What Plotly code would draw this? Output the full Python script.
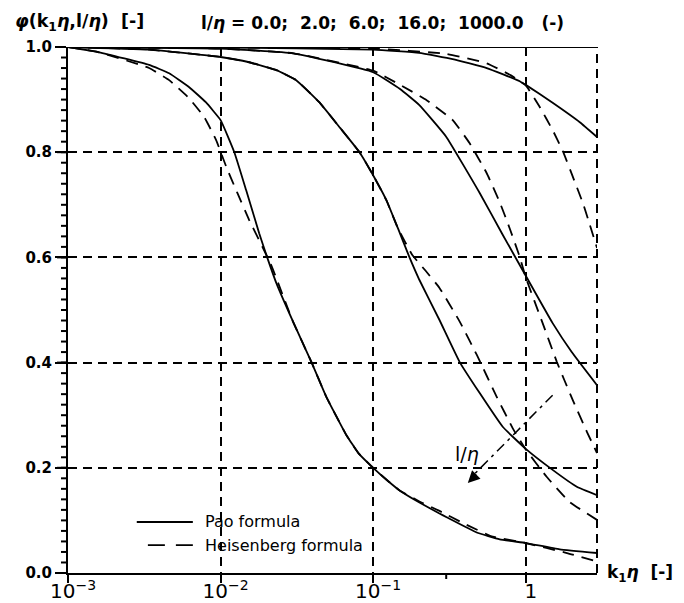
import numpy as np
import plotly.graph_objects as go

# ---------------- data ----------------
K_MAX = 2.93

x_pao_0 = [0.001, K_MAX]
y_pao_0 = [1.0, 1.0]

x_pao_2 = [0.001, 0.01, 0.1, 0.2, 0.332, 0.555, 0.913, 1.0, 1.5, 2.26, K_MAX]
y_pao_2 = [1.0, 0.999, 0.995, 0.989, 0.977, 0.96, 0.935, 0.928, 0.894, 0.857, 0.829]
x_hei_2 = [0.001, 0.01, 0.1, 0.3, 0.555, 0.8, 1.0, 1.235, 1.5, 1.75, 2.03, 2.37, 2.63, K_MAX]
y_hei_2 = [1.0, 0.999, 0.997, 0.987, 0.969, 0.946, 0.927, 0.886, 0.842, 0.802, 0.754, 0.703, 0.662, 0.618]

x_pao_6 = [0.001, 0.01, 0.03, 0.1, 0.15, 0.2, 0.3, 0.5, 0.7, 1.0, 1.5, 2.0, K_MAX]
y_pao_6 = [1.0, 0.997, 0.988, 0.952, 0.92, 0.89, 0.83, 0.722, 0.645, 0.565, 0.475, 0.42, 0.357]
x_hei_6 = [0.001, 0.01, 0.03, 0.1, 0.15, 0.224, 0.332, 0.429, 0.555, 0.675, 0.785, 0.913, 1.0, 1.29, 1.6, 2.03, 2.52, K_MAX]
y_hei_6 = [1.0, 0.997, 0.988, 0.955, 0.928, 0.899, 0.861, 0.817, 0.76, 0.705, 0.655, 0.601, 0.562, 0.475, 0.401, 0.329, 0.268, 0.228]

x_pao_16 = [0.001, 0.0034, 0.01, 0.0154, 0.0232, 0.0313, 0.0443, 0.060, 0.0813, 0.0974, 0.122, 0.145, 0.173, 0.201,
            0.272, 0.369, 0.499, 0.706, 1.0, 1.5, 2.16, K_MAX]
y_pao_16 = [1.0, 0.995, 0.981, 0.971, 0.956, 0.937, 0.895, 0.848, 0.80, 0.762, 0.709, 0.656, 0.60, 0.557,
            0.481, 0.401, 0.342, 0.278, 0.236, 0.196, 0.164, 0.148]
x_hei_16 = [0.001, 0.0034, 0.01, 0.0154, 0.0232, 0.0313, 0.0443, 0.060, 0.0813, 0.0974, 0.122, 0.145, 0.18, 0.22,
            0.272, 0.369, 0.477, 0.645, 0.822, 1.0, 1.37, 1.94, K_MAX]
y_hei_16 = [1.0, 0.995, 0.981, 0.971, 0.956, 0.937, 0.895, 0.848, 0.80, 0.762, 0.709, 0.656, 0.605, 0.575,
            0.542, 0.478, 0.415, 0.335, 0.275, 0.235, 0.183, 0.135, 0.101]

x_pao_1000 = [0.001, 0.0016, 0.0034, 0.0046, 0.0062, 0.0080, 0.0100, 0.0123, 0.0147, 0.0179, 0.0202, 0.0232,
              0.0295, 0.0394, 0.0493, 0.0668, 0.080, 0.100, 0.125, 0.149, 0.201, 0.272, 0.303, 0.477, 0.675, 1.0, 1.67, K_MAX]
y_pao_1000 = [1.0, 0.99, 0.966, 0.95, 0.924, 0.895, 0.861, 0.80, 0.728, 0.646, 0.60, 0.551,
              0.481, 0.401, 0.335, 0.262, 0.228, 0.20, 0.175, 0.157, 0.134, 0.113, 0.106, 0.077, 0.064, 0.057, 0.045, 0.038]
x_hei_1000 = [0.001, 0.0016, 0.0034, 0.0046, 0.0062, 0.0078, 0.00935, 0.0109, 0.0129, 0.0154, 0.0188, 0.0215,
              0.0295, 0.0394, 0.0493, 0.0668, 0.080, 0.100, 0.125, 0.149, 0.201, 0.272, 0.40, 0.607, 1.0, 1.86, K_MAX]
y_hei_1000 = [1.0, 0.99, 0.96, 0.937, 0.903, 0.867, 0.823, 0.772, 0.722, 0.671, 0.62, 0.585,
              0.481, 0.401, 0.335, 0.262, 0.228, 0.20, 0.175, 0.157, 0.136, 0.118, 0.093, 0.069, 0.057, 0.038, 0.022]

# arrow indicating increasing l/eta
x_arrow = [1.5, 0.45]
y_arrow = [0.338, 0.185]
arrow_tip = (0.417, 0.171)
arrow_label = (0.41, 0.226)

legend_labels = ["Pao formula", "Heisenberg formula"]

# tick positions (axis decoration)
major_x = [0.001, 0.01, 0.1, 1.0]
minor_x = [m * 10.0 ** d for d in (-3, -2, -1, 0) for m in range(2, 10) if m * 10.0 ** d <= K_MAX]
major_y = [0.0, 0.2, 0.4, 0.6, 0.8, 1.0]
minor_y = [round(v, 2) for v in np.arange(0.0, 1.0001, 0.02)]

# ---------------- figure ----------------
FONT = "DejaVu Sans, Liberation Sans, sans-serif"
BLACK = "black"
DASH = "12px,8px"
SMOOTH = 0.35
xr = [-3, float(np.log10(K_MAX))]

fig = go.Figure()

solid_sets = [(x_pao_0, y_pao_0), (x_pao_2, y_pao_2), (x_pao_6, y_pao_6),
              (x_pao_16, y_pao_16), (x_pao_1000, y_pao_1000)]
dash_sets = [(x_hei_2, y_hei_2), (x_hei_6, y_hei_6), (x_hei_16, y_hei_16), (x_hei_1000, y_hei_1000)]

for xs, ys in solid_sets:
    fig.add_trace(go.Scatter(x=xs, y=ys, mode="lines", showlegend=False,
                             line=dict(color=BLACK, width=1.8, shape="spline", smoothing=SMOOTH)))
for xs, ys in dash_sets:
    fig.add_trace(go.Scatter(x=xs, y=ys, mode="lines", showlegend=False,
                             line=dict(color=BLACK, width=1.8, dash=DASH, shape="spline", smoothing=SMOOTH)))

fig.add_trace(go.Scatter(x=x_arrow, y=y_arrow, mode="lines", showlegend=False, hoverinfo="skip",
                         line=dict(color=BLACK, width=1.5, dash="10px,5px,3px,5px")))

# outward tick marks drawn as pixel-sized shapes anchored on the axes
for vals, ln in ((major_y, 11), (minor_y, 7)):
    for v in vals:
        fig.add_shape(type="line", xref="paper", xsizemode="pixel", xanchor=0, x0=-ln, x1=0,
                      yref="y", y0=v, y1=v, line=dict(color=BLACK, width=2))
for vals, ln in ((major_x, 8), (minor_x, 6)):
    for v in vals:
        lv = float(np.log10(v))
        fig.add_shape(type="line", xref="x", x0=lv, x1=lv,
                      yref="paper", ysizemode="pixel", yanchor=0, y0=-ln, y1=0,
                      line=dict(color=BLACK, width=2))

fig.update_layout(
    xaxis=dict(type="log", range=xr,
               tickmode="linear", tick0=0, dtick=1, exponentformat="power", showexponent="all",
               showline=True, linecolor=BLACK, linewidth=2,
               ticks="outside", ticklen=8, tickwidth=2, tickcolor=BLACK,
               ticklabelstandoff=-8, ticklabelshift=5,
               showgrid=True, gridcolor=BLACK, gridwidth=1.6, griddash="9px,6px",
               tickfont=dict(family=FONT, size=16, color=BLACK), zeroline=False),
    yaxis=dict(range=[0, 1.0],
               tickmode="linear", tick0=0, dtick=0.2, tickformat=".1f",
               showline=True, linecolor=BLACK, linewidth=2,
               ticks="outside", ticklen=11, tickwidth=2, tickcolor=BLACK,
               showgrid=True, gridcolor=BLACK, gridwidth=1.6, griddash="9px,6px",
               tickfont=dict(family=FONT, size=15, color=BLACK, weight="bold"), zeroline=False),
)

# right-hand dashed border
fig.add_shape(type="line", xref="paper", yref="paper", x0=1, x1=1, y0=0, y1=1,
              line=dict(color=BLACK, width=2, dash="9px,6px"))

# legend drawn by hand (long line samples like the reference)
fig.add_shape(type="line", xref="paper", yref="paper", x0=0.130, x1=0.236, y0=0.097, y1=0.097,
              line=dict(color=BLACK, width=1.8))
fig.add_shape(type="line", xref="paper", yref="paper", x0=0.151, x1=0.236, y0=0.053, y1=0.053,
              line=dict(color=BLACK, width=1.8, dash="17px,11px"))
for lab, yy in zip(legend_labels, [0.097, 0.053]):
    fig.add_annotation(xref="paper", yref="paper", x=0.255, y=yy, xanchor="left", yanchor="middle",
                       text=lab, showarrow=False, font=dict(family=FONT, size=16, color=BLACK))

fig.add_annotation(x=np.log10(arrow_tip[0]), y=arrow_tip[1], xref="x", yref="y",
                   text="", showarrow=True, arrowhead=2, arrowsize=1.6, arrowwidth=1.5, arrowcolor=BLACK,
                   ax=10, ay=-10)
fig.add_annotation(x=np.log10(arrow_label[0]), y=arrow_label[1], xref="x", yref="y",
                   text="l/<i>η</i>", showarrow=False, font=dict(family=FONT, size=19, color=BLACK))

fig.add_annotation(xref="paper", yref="paper", x=-0.104, y=1.046, xanchor="left", yanchor="middle",
                   text="<b><i>φ</i>(k<sub>1</sub><i>η</i>,l/<i>η</i>)  [-]</b>", showarrow=False,
                   font=dict(family=FONT, size=17.5, color=BLACK))
fig.add_annotation(xref="paper", yref="paper", x=0.247, y=1.046, xanchor="left", yanchor="middle",
                   text="<b>l/<i>η</i> = 0.0;  2.0;  6.0;  16.0;  1000.0   (-)</b>", showarrow=False,
                   font=dict(family=FONT, size=17, color=BLACK))
fig.add_annotation(xref="paper", yref="paper", x=1.015, y=0.0, xanchor="left", yanchor="middle",
                   text="<b>k<sub>1</sub><i>η</i>  [-]</b>", showarrow=False,
                   font=dict(family=FONT, size=17, color=BLACK))

fig.update_layout(
    width=684, height=603,
    margin=dict(l=68, r=87, t=47, b=30, autoexpand=False),
    paper_bgcolor="white", plot_bgcolor="white",
    font=dict(family=FONT, color=BLACK),
    showlegend=False,
)

fig.write_html("out.html")
